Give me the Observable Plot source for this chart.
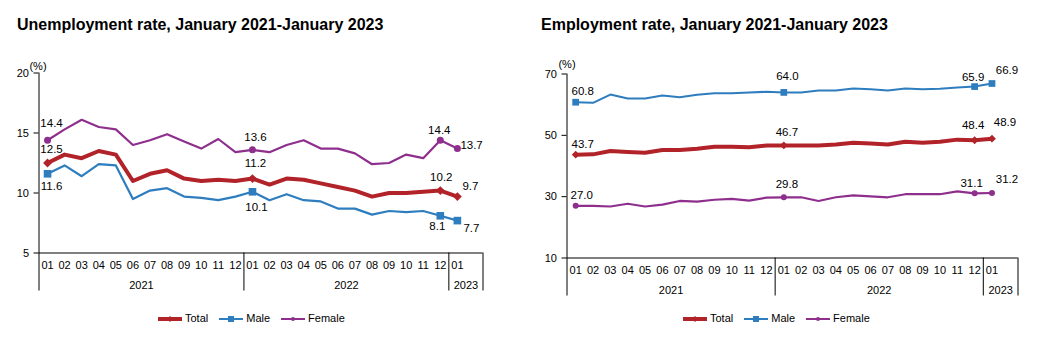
<!DOCTYPE html>
<html>
<head>
<meta charset="utf-8">
<script src="https://cdn.jsdelivr.net/npm/d3@7"></script>
<script src="https://cdn.jsdelivr.net/npm/@observablehq/plot@0.6"></script>
<style>
  html, body { margin: 0; padding: 0; background: #fff; }
  body { font-family: Arial, "Liberation Sans", sans-serif; color: #000; }
  #root { position: relative; width: 1039px; height: 351px; overflow: hidden; background: #fff; }
  .chart { position: absolute; top: 0; }
  .title { position: absolute; top: 17px; font-size: 16px; line-height: 16px; font-weight: bold; white-space: nowrap; }
  .legend { position: absolute; top: 312px; display: flex; align-items: center; font-size: 11px; line-height: 13px; white-space: nowrap; }
  .legend .item { display: flex; align-items: center; margin-right: 11px; }
  .legend svg { margin-right: 3px; display: block; }
</style>
</head>
<body>
<div id="root"></div>
<script>
// ---------- data ----------
const months = ["01","02","03","04","05","06","07","08","09","10","11","12",
                "01","02","03","04","05","06","07","08","09","10","11","12","01"];
const monthYears = ["2021","2021","2021","2021","2021","2021","2021","2021","2021","2021","2021","2021",
                    "2022","2022","2022","2022","2022","2022","2022","2022","2022","2022","2022","2022","2023"];
const years = ["2021", "2022", "2023"];
const seriesNames = ["Total", "Male", "Female"];

const unempTotal  = [12.5, 13.2, 12.9, 13.5, 13.2, 11.0, 11.6, 11.9, 11.2, 11.0, 11.1, 11.0,
                     11.2, 10.7, 11.2, 11.1, 10.8, 10.5, 10.2, 9.7, 10.0, 10.0, 10.1, 10.2, 9.7];
const unempMale   = [11.6, 12.3, 11.4, 12.4, 12.3, 9.5, 10.2, 10.4, 9.7, 9.6, 9.4, 9.7,
                     10.1, 9.4, 9.9, 9.4, 9.3, 8.7, 8.7, 8.2, 8.5, 8.4, 8.5, 8.1, 7.7];
const unempFemale = [14.4, 15.3, 16.1, 15.5, 15.3, 14.0, 14.4, 14.9, 14.3, 13.7, 14.5, 13.4,
                     13.6, 13.4, 14.0, 14.4, 13.7, 13.7, 13.3, 12.4, 12.5, 13.2, 12.9, 14.4, 13.7];

const empTotal  = [43.7, 43.8, 44.9, 44.6, 44.3, 45.2, 45.2, 45.6, 46.3, 46.3, 46.1, 46.7,
                   46.7, 46.7, 46.7, 47.0, 47.6, 47.3, 47.0, 47.9, 47.6, 47.9, 48.6, 48.4, 48.9];
const empMale   = [60.8, 60.6, 63.3, 62.0, 62.0, 63.0, 62.4, 63.2, 63.7, 63.7, 64.0, 64.2,
                   64.0, 64.0, 64.6, 64.6, 65.3, 65.0, 64.6, 65.3, 65.0, 65.2, 65.6, 65.9, 66.9];
const empFemale = [27.0, 27.0, 26.8, 27.7, 26.8, 27.4, 28.6, 28.4, 29.0, 29.3, 28.7, 29.7,
                   29.8, 29.8, 28.6, 29.8, 30.4, 30.1, 29.8, 30.8, 30.8, 30.8, 31.7, 31.1, 31.2];

const unempTicks = [5, 10, 15, 20];
const empTicks = [10, 30, 50, 70];
const markedIdx = [0, 12, 23, 24];

// ---------- styles ----------
const colors = { Total: "#B22229", Male: "#2E7DBE", Female: "#8E2F8D" };
const symbols = { Total: "diamond2", Male: "square", Female: "circle" };
const FONT = "Arial, 'Liberation Sans', sans-serif";

// label placement (style only): [series, index, dx, dy, anchor]
const unempLabelPos = [
  ["Female", 0, 4, -17, "middle"], ["Total", 0, 4, -14, "middle"], ["Male", 0, 4, 13, "middle"],
  ["Female", 12, 3, -12, "middle"], ["Total", 12, 3, -15, "middle"], ["Male", 12, 4, 16, "middle"],
  ["Female", 23, -1, -10, "middle"], ["Total", 23, 1, -13, "middle"], ["Male", 23, -3, 11, "middle"],
  ["Female", 24, 3, -3, "start"], ["Total", 24, 5, -10, "start"], ["Male", 24, 6, 8, "start"]
];
const empLabelPos = [
  ["Male", 0, 7, -11, "middle"], ["Total", 0, 7, -10, "middle"], ["Female", 0, 6, -11, "middle"],
  ["Male", 12, 3.5, -16, "middle"], ["Total", 12, 3, -13, "middle"], ["Female", 12, 3, -13, "middle"],
  ["Male", 23, -1.5, -9, "middle"], ["Total", 23, -1.5, -15, "middle"], ["Female", 23, -3, -10, "middle"],
  ["Male", 24, 15, -13, "middle"], ["Total", 24, 13, -16, "middle"], ["Female", 24, 15, -14, "middle"]
];

function makeChart(cfg) {
  const n = months.length;
  const xDomain = [-0.5, n + 0.5];
  const yMin = cfg.yDomain[0], yMax = cfg.yDomain[1];
  const rows = [];
  seriesNames.forEach(s => cfg.values[s].forEach((v, i) => rows.push({ s, i, v })));

  const groups = years.map(y => {
    const idx = months.map((m, i) => i).filter(i => monthYears[i] === y);
    return { year: y, start: idx[0] - 0.5 };
  });
  groups.forEach((g, k) => {
    g.end = k < groups.length - 1 ? groups[k + 1].start : xDomain[1];
    g.center = (g.start + g.end) / 2;
  });

  const marks = [
    Plot.ruleY([yMin], { stroke: "#000", strokeWidth: 1 }),
    Plot.ruleX([xDomain[0]], { y1: yMax, y2: yMin, insetBottom: -cfg.tableDepth, stroke: "#000", strokeWidth: 1 }),
    Plot.ruleX(groups.map(g => g.end), { y1: yMin, y2: yMin, insetBottom: -cfg.tableDepth, stroke: "#000", strokeWidth: 1 }),
    Plot.axisY({ ticks: cfg.yTicks, tickSize: 5, tickPadding: 5, fontSize: 11, label: null, stroke: "#000", fill: "#000" }),
    Plot.text(months, { x: (d, i) => i, y: yMin, text: d => d, dy: cfg.monthDy, fontSize: 11, fill: "#000" }),
    Plot.text(groups, { x: "center", y: yMin, text: "year", dy: cfg.yearDy, fontSize: 11, fill: "#000" }),
    Plot.text(["(%)"], { frameAnchor: "top-left", textAnchor: "middle", dx: cfg.pctDx, dy: cfg.pctDy, fontSize: 11, fill: "#000" })
  ];

  // draw Female, Male, Total so Total sits on top
  ["Female", "Male", "Total"].forEach(s => {
    const data = rows.filter(d => d.s === s);
    marks.push(Plot.line(data, { x: "i", y: "v", stroke: colors[s], strokeWidth: cfg.lineWidth[s], strokeLinejoin: "round", strokeLinecap: "round" }));
    marks.push(Plot.dot(data.filter(d => markedIdx.includes(d.i)), {
      x: "i", y: "v", symbol: symbols[s], r: cfg.markerR[s], fill: colors[s], stroke: "none"
    }));
  });

  cfg.labels.forEach(([s, i, dx, dy, anchor]) => {
    const d = rows.find(r => r.s === s && r.i === i);
    marks.push(Plot.text([d], { x: "i", y: "v", text: r => r.v.toFixed(1), dx, dy, textAnchor: anchor, fontSize: 11.5, fill: "#000" }));
  });

  return Plot.plot({
    width: cfg.width,
    height: cfg.height,
    marginLeft: cfg.marginLeft,
    marginRight: cfg.marginRight,
    marginTop: cfg.marginTop,
    marginBottom: cfg.marginBottom,
    style: { fontFamily: FONT, fontSize: "11px", background: "transparent", overflow: "visible", color: "#000" },
    x: { type: "linear", domain: xDomain, axis: null },
    y: { type: "linear", domain: cfg.yDomain, axis: null },
    marks
  });
}

function legend(left) {
  const div = document.createElement("div");
  div.className = "legend";
  div.style.left = left + "px";
  seriesNames.forEach(s => {
    const item = document.createElement("div");
    item.className = "item";
    const c = colors[s];
    let marker = "";
    if (s === "Total") marker = `<polygon points="12,2 15,5 12,8 9,5" fill="${c}"/>`;
    else if (s === "Male") marker = `<rect x="9" y="2" width="6" height="6" fill="${c}"/>`;
    else marker = `<circle cx="12" cy="5" r="2" fill="${c}"/>`;
    const w = s === "Total" ? 4 : 2;
    item.innerHTML = `<svg width="24" height="10" viewBox="0 0 24 10"><line x1="0" x2="24" y1="5" y2="5" stroke="${c}" stroke-width="${w}"/>${marker}</svg><span>${s}</span>`;
    div.appendChild(item);
  });
  return div;
}

const root = document.getElementById("root");

const left = makeChart({
  values: { Total: unempTotal, Male: unempMale, Female: unempFemale },
  yDomain: [5, 20], yTicks: unempTicks,
  width: 520, height: 300, marginLeft: 38.5, marginRight: 37.5, marginTop: 72.5, marginBottom: 47.5,
  tableDepth: 38, monthDy: 12.5, yearDy: 32.5, pctDx: -1, pctDy: -10.5,
  lineWidth: { Total: 4, Male: 2.2, Female: 2.2 },
  markerR: { Total: 4, Male: 4.3, Female: 3.5 },
  labels: unempLabelPos
});
const right = makeChart({
  values: { Total: empTotal, Male: empMale, Female: empFemale },
  yDomain: [10, 70], yTicks: empTicks,
  width: 519, height: 300, marginLeft: 46.5, marginRight: 21.5, marginTop: 73.5, marginBottom: 42.5,
  tableDepth: 38, monthDy: 12.5, yearDy: 32, pctDx: 0, pctDy: -13.5,
  lineWidth: { Total: 4, Male: 2, Female: 2.2 },
  markerR: { Total: 3.5, Male: 3.8, Female: 3 },
  labels: empLabelPos
});

const wl = document.createElement("div"); wl.className = "chart"; wl.style.left = "0px"; wl.style.width = "520px"; wl.appendChild(left);
const wr = document.createElement("div"); wr.className = "chart"; wr.style.left = "520px"; wr.style.width = "519px"; wr.appendChild(right);
root.appendChild(wl);
root.appendChild(wr);

const t1 = document.createElement("div"); t1.className = "title"; t1.style.left = "17px";
t1.textContent = "Unemployment rate, January 2021-January 2023";
const t2 = document.createElement("div"); t2.className = "title"; t2.style.left = "541px";
t2.textContent = "Employment rate, January 2021-January 2023";
root.appendChild(t1);
root.appendChild(t2);

root.appendChild(legend(158));
root.appendChild(legend(683));
</script>
</body>
</html>
